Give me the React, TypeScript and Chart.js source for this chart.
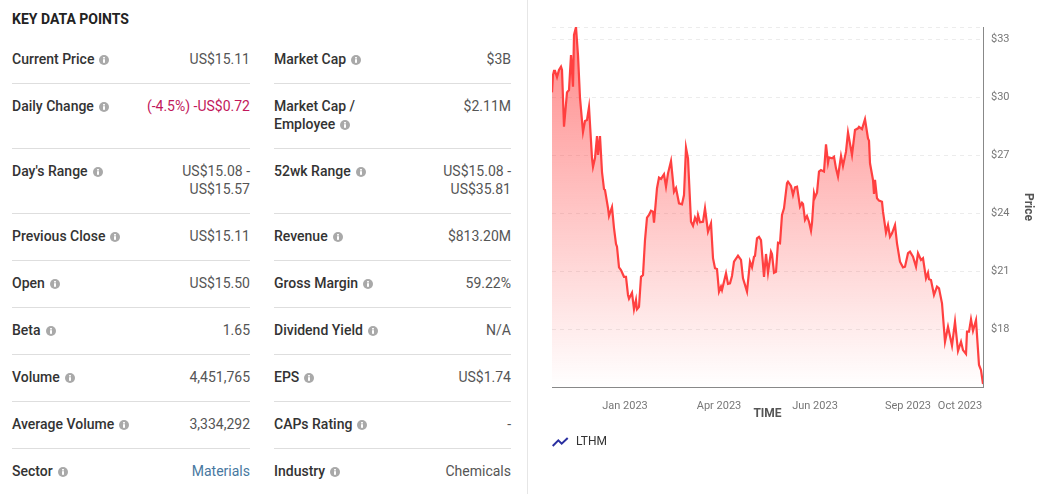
import React, { useEffect, useRef } from "react";
import { Chart, registerables } from "chart.js";

Chart.register(...registerables);

const FONT = "Roboto, sans-serif";

// Position along the time axis (roughly calendar days since the start of the window)
const days = [0,1,2,3,5,7,9,10,12,15,17,19,21,22,24,26,28,31,33,35,37,40,41,43,45,46,48,50,52,53,56,57,60,62,64,65,67,69,72,74,76,77,80,82,84,85,87,89,91,93,95,97,99,101,102,105,107,109,112,114,116,119,122,124,127,130,132,134,136,139,141,143,145,146,148,151,153,156,159,161,163,165,167,169,170,174,176,178,180,182,186,189,191,195,198,200,202,203,205,207,209,212,214,216,219,220,222,224,226,228,230,232,235,236,239,241,243,245,248,250,251,253,255,257,259,260,262,263,265,267,269,272,274,276,277,280,282,284,286,289,291,294,296,300,303,306,307,310,313,316,317,318,321,322,323,325,327,330,331,334,336,338,340,343,345,348,351,353,356,358,361,364,366,369,371,374,376,377,379,382,385,387,390,393,396,400,403,406,409,411,414,415,417,419,421,424,427,429,431];
const prices = [30.26,31.16,31.37,31.37,31.05,31.42,31.59,31.42,28.48,30.26,30.38,32.19,30.55,33.23,33.63,32.19,29.97,28.21,28.78,28.83,29.5,26.86,26.4,26.86,28,27.02,28,26.14,25.26,25.21,24.28,23.86,24.33,23.24,22.42,22.28,21.21,21.07,20.72,20.72,19.78,19.59,19.9,19.04,19.52,19.04,19.17,20.72,20.81,22.62,23.78,23.92,24.14,24.09,23.52,25.3,25.85,25.78,26.02,25.38,26.07,26.71,25.12,25.31,24.52,24.47,24.95,27.4,26.85,23.57,23.36,23.78,23.54,23.92,23.54,23.57,24.26,23.05,23.49,21.68,21.16,21.12,19.95,20.21,20.04,20.9,20.35,20.38,20.76,21.5,21.81,21.59,20.64,19.95,21.5,21.21,21.76,21.8,22.71,22.79,22.62,20.72,21.9,20.93,22.02,21.9,20.93,20.98,22.48,22.45,23.92,24.26,25.56,25.64,25.42,24.95,25.35,25.38,24.35,24.55,24.49,23.66,23.86,23.57,23.1,23.49,25.04,24.83,25.07,26.16,26.24,26.16,27.57,26.62,26.9,26.85,26.93,26.33,25.9,26.97,26.45,27.19,28.19,27.02,28.31,28.4,28.48,28.36,28.87,27.88,27.76,26.59,25.73,25,25.73,24.78,24.66,24.6,24.09,23,23.4,22.79,22.97,23.4,22.45,21.5,21.21,21.24,21.94,22.02,21.76,21.24,21.94,21.59,21.68,20.64,20.93,20.59,20.55,19.78,20.21,20.12,19.35,17.36,18.14,17.16,18.4,16.88,17.36,16.93,16.73,17.88,17.88,18.52,17.93,18.48,16.16,15.9,15.17];

const xTickDays = [73, 167, 263, 356, 408];
const xTickLabels = ["Jan 2023", "Apr 2023", "Jun 2023", "Sep 2023", "Oct 2023"];
const yTickValues = [18, 21, 24, 27, 30, 33];
const xMin = 0;
const xMax = 431;
const yMin = 15.02;
const yMax = 33.64;
const seriesName = "LTHM";

const leftRows = [
  ["Current Price", "US$15.11"],
  ["Daily Change", "(-4.5%) -US$0.72"],
  ["Day's Range", "US$15.08 - US$15.57"],
  ["Previous Close", "US$15.11"],
  ["Open", "US$15.50"],
  ["Beta", "1.65"],
  ["Volume", "4,451,765"],
  ["Average Volume", "3,334,292"],
  ["Sector", "Materials"],
];
const rightRows = [
  ["Market Cap", "$3B"],
  ["Market Cap / Employee", "$2.11M"],
  ["52wk Range", "US$15.08 - US$35.81"],
  ["Revenue", "$813.20M"],
  ["Gross Margin", "59.22%"],
  ["Dividend Yield", "N/A"],
  ["EPS", "US$1.74"],
  ["CAPs Rating", "-"],
  ["Industry", "Chemicals"],
];
const rowHeights = [47, 65, 65, 47, 47, 47, 47, 47, 47];

function InfoIcon() {
  return (
    <svg width="10" height="10" viewBox="0 0 10 10" style={{ marginLeft: 5, verticalAlign: -1 }}>
      <circle cx="5" cy="5" r="5" fill="#a9a9a9" />
      <rect x="4" y="4.2" width="2" height="3.6" fill="#fff" />
      <rect x="4" y="2.1" width="2" height="1.4" fill="#fff" />
    </svg>
  );
}

function valueColor(value: string) {
  if (value.startsWith("(-")) return "#c2185b";
  if (value === "Materials") return "#47789f";
  return "#555";
}

function Column({ rows, left, width }: { rows: string[][]; left: number; width: number }) {
  return (
    <div style={{ position: "absolute", left, top: 37, width }}>
      {rows.map(([label, value], i) => {
        const wrapLabel = label === "Market Cap / Employee";
        const wrapValue = value.includes(" - ");
        return (
          <div
            key={label}
            style={{
              position: "relative",
              height: rowHeights[i],
              boxSizing: "border-box",
              paddingTop: 13,
              borderBottom: i < rows.length - 1 ? "1px solid #dedede" : "none",
              lineHeight: "18px",
              fontSize: 14,
            }}
          >
            <div style={{ fontWeight: 500, color: "#333", width: wrapLabel ? 100 : undefined, whiteSpace: wrapLabel ? "normal" : "nowrap" }}>
              {label}
              <InfoIcon />
            </div>
            <div
              style={{
                position: "absolute",
                right: 0,
                top: 13,
                color: valueColor(value),
                textAlign: "right",
                width: wrapValue ? 90 : undefined,
                whiteSpace: wrapValue ? "normal" : "nowrap",
              }}
            >
              {value}
            </div>
          </div>
        );
      })}
    </div>
  );
}

function makeLegendIcon() {
  const c = document.createElement("canvas");
  c.width = 18;
  c.height = 14;
  const ctx = c.getContext("2d")!;
  ctx.strokeStyle = "#2a2fa0";
  ctx.lineWidth = 2;
  ctx.beginPath();
  ctx.moveTo(0.7, 11);
  ctx.lineTo(6.3, 5.3);
  ctx.lineTo(9.7, 8.7);
  ctx.lineTo(15.7, 3);
  ctx.stroke();
  return c;
}

export default function App() {
  const ref = useRef<HTMLCanvasElement>(null);

  useEffect(() => {
    const icon = makeLegendIcon();
    const chart = new Chart(ref.current!, {
      type: "line",
      data: {
        datasets: [
          {
            label: seriesName,
            data: days.map((d, i) => ({ x: d, y: prices[i] })),
            borderColor: "#ff4040",
            borderWidth: 2.2,
            pointRadius: 0,
            tension: 0,
            fill: "start",
            backgroundColor: (ctx: any) => {
              const area = ctx.chart.chartArea;
              if (!area) return "rgba(255,64,64,0.5)";
              const g = ctx.chart.ctx.createLinearGradient(0, area.top, 0, area.bottom);
              g.addColorStop(0, "rgba(255,64,64,0.62)");
              g.addColorStop(1, "rgba(255,64,64,0)");
              return g;
            },
          },
        ],
      },
      options: {
        responsive: false,
        animation: false,
        layout: { padding: { left: 12, top: 27, right: 0, bottom: 0 } },
        plugins: {
          tooltip: { enabled: false },
          legend: {
            display: true,
            position: "bottom",
            align: "start",
            labels: {
              padding: 0,
              usePointStyle: true,
              pointStyleWidth: 18,
              font: { family: FONT, size: 12 },
              color: "#333",
              generateLabels: () => [
                { text: seriesName, pointStyle: icon as any, fontColor: "#333", datasetIndex: 0, hidden: false, lineWidth: 0 },
              ],
            },
          },
        },
        scales: {
          x: {
            type: "linear",
            position: "bottom",
            min: xMin,
            max: xMax,
            grid: { display: false },
            border: { display: true, color: "#888", width: 1 },
            ticks: {
              autoSkip: false,
              maxRotation: 0,
              padding: 5,
              color: "#777",
              font: { family: FONT, size: 11 },
              callback: (v: any) => {
                const i = xTickDays.indexOf(v);
                return i >= 0 ? xTickLabels[i] : "";
              },
            },
            afterBuildTicks: (scale: any) => {
              scale.ticks = xTickDays.map((value) => ({ value }));
            },
            afterFit: (scale: any) => {
              scale.height = 49;
            },
            title: {
              display: true,
              text: "TIME",
              color: "#555",
              font: { family: FONT, size: 12, weight: "bold" },
              padding: { top: 0, bottom: 15 },
            },
          },
          y: {
            type: "linear",
            position: "right",
            min: yMin,
            max: yMax,
            grid: { color: "#ececec", drawTicks: false, lineWidth: 1 },
            border: { display: true, color: "#888", width: 1, dash: [4, 4] },
            ticks: {
              padding: 8,
              color: "#777",
              font: { family: FONT, size: 11 },
              callback: (v: any) => (yTickValues.includes(v) ? `$${v}` : ""),
            },
            afterBuildTicks: (scale: any) => {
              scale.ticks = [...yTickValues, yMax].map((value) => ({ value }));
            },
            afterFit: (scale: any) => {
              scale.width = 66;
            },
            title: {
              display: true,
              text: "Price",
              color: "#555",
              font: { family: FONT, size: 12, weight: "bold" },
              padding: { top: 14, bottom: 0 },
            },
          },
        },
      },
    } as any);
    return () => chart.destroy();
  }, []);

  return (
    <div style={{ position: "fixed", left: 0, top: 0, width: 1049, height: 494, overflow: "hidden", background: "#fff", fontFamily: FONT }}>
      <div style={{ position: "absolute", left: 12, top: 10, fontSize: 14, fontWeight: 700, color: "#222", lineHeight: "18px" }}>
        KEY DATA POINTS
      </div>
      <Column rows={leftRows} left={12} width={238} />
      <Column rows={rightRows} left={274} width={237} />
      <div style={{ position: "absolute", left: 527, top: 0, width: 1, height: 494, background: "#e6e6e6" }} />
      <canvas ref={ref} width={509} height={458} style={{ position: "absolute", left: 540, top: 0, display: "block" }} />
    </div>
  );
}
